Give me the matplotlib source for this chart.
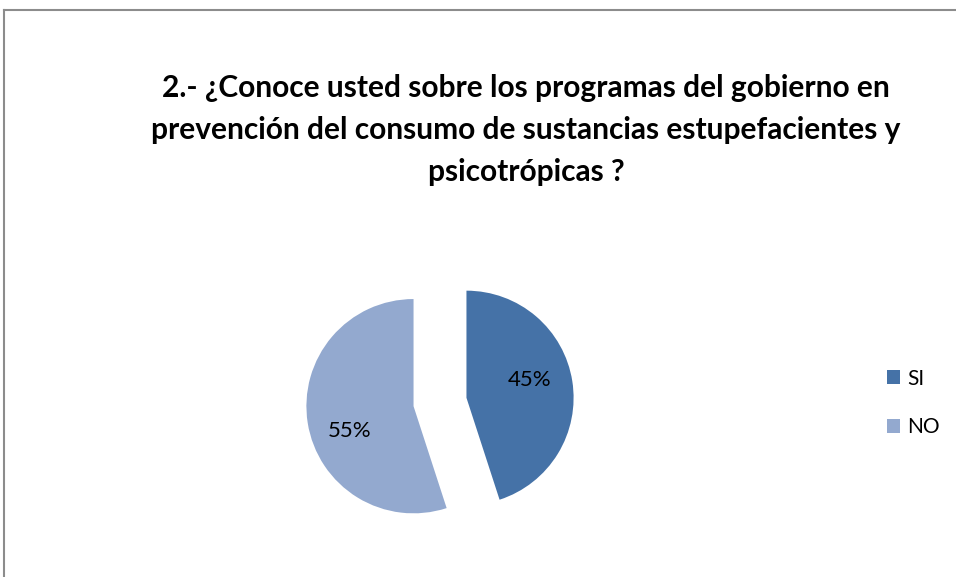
import matplotlib.pyplot as plt
from matplotlib.lines import Line2D
from matplotlib.patches import Patch

plt.rcParams['font.family'] = ['Lato', 'DejaVu Sans']

labels = ['SI', 'NO']
values = [45, 55]
colors = ['#4572a7', '#93a9cf']
title = ('2.- ¿Conoce usted sobre los programas del gobierno en\n'
         'prevención del consumo de sustancias estupefacientes y\n'
         'psicotrópicas ?')

W, H = 956, 577
fig = plt.figure(figsize=(W / 100, H / 100), dpi=100)

# outer chart border (only top and left visible)
fig.add_artist(Line2D([4 / W, 4 / W], [0, 1 - 10 / H], transform=fig.transFigure,
                      color='#8c8c8c', lw=1.5))
fig.add_artist(Line2D([4 / W, 1], [1 - 10 / H, 1 - 10 / H], transform=fig.transFigure,
                      color='#8c8c8c', lw=1.5))

# pie axes: 300px square centered at (440, 402)
cx, cy, s = 440, 402, 300
ax = fig.add_axes([(cx - s / 2) / W, (H - cy - s / 2) / H, s / W, s / H])
wedges, texts, autotexts = ax.pie(values, colors=colors, startangle=90, counterclock=False,
                                  explode=[0.25, 0.25], autopct='%d%%', pctdistance=0.6,
                                  textprops={'fontsize': 16, 'color': 'black'})
# nudge labels like the original
x, y = autotexts[0].get_position()
autotexts[0].set_position((x, y + 0.07))
x, y = autotexts[1].get_position()
autotexts[1].set_position((x, y - 0.14))
ax.set_xlim(-1.4, 1.4)
ax.set_ylim(-1.4, 1.4)
ax.set_aspect('equal')
ax.axis('off')

fig.text(526 / W, 1 - 130 / H, title, ha='center', va='center', fontsize=21.5,
         fontweight='bold', linespacing=1.62)

handles = [Patch(facecolor=c, edgecolor='none') for c in colors]
fig.legend(handles, labels, loc='upper left', bbox_to_anchor=(868 / W, 1 - 350 / H),
           frameon=False, fontsize=15, handlelength=0.65, handleheight=0.65,
           handletextpad=0.35, labelspacing=1.35)

fig.savefig('out.png', dpi=100)
